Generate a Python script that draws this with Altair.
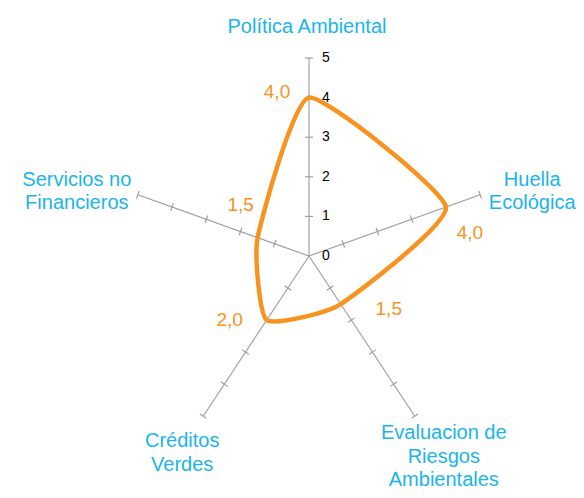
import math
import altair as alt
import pandas as pd

# ---- data ----
categories = ["Política Ambiental", "Huella Ecológica",
              "Evaluacion de Riesgos Ambientales", "Créditos Verdes",
              "Servicios no Financieros"]
category_lines = [["Política Ambiental"], ["Huella", "Ecológica"],
                  ["Evaluacion de", "Riesgos", "Ambientales"],
                  ["Créditos", "Verdes"], ["Servicios no", "Financieros"]]
values = [4.0, 4.0, 1.5, 2.0, 1.5]
value_labels = ["4,0", "4,0", "1,5", "2,0", "1,5"]
scale_ticks = [0, 1, 2, 3, 4, 5]
max_value = 5

# ---- styles / layout ----
W, H = 360, 396
PXX = W / (2 * max_value)   # px per unit in x
PXY = H / (2 * max_value)   # px per unit in y
ORANGE = "#F7931E"
CYAN = "#1BB4EC"
GRAY = "#9a9a9a"
FONT = "Liberation Sans"
# pixel offsets of category labels (first baseline) from axis ends,
# and of value labels from the data points
cat_offsets = [(-2, -25), (52, -9), (29, 23), (-21, 31), (-61, -9)]
val_offsets = [(-32, -6), (24, 26), (48, 5), (-37, 0), (-17, -33)]

n = len(categories)
angles = [2 * math.pi * i / n for i in range(n)]


def pos(r, a):
    return r * math.sin(a), r * math.cos(a)


# axis lines
axis_rows = []
for c, a in zip(categories, angles):
    x2, y2 = pos(max_value, a)
    axis_rows.append({"x": 0, "y": 0, "x2": x2, "y2": y2})
axes_df = pd.DataFrame(axis_rows)

# tick marks (perpendicular in pixel space, 8px long)
tick_rows = []
for a in angles:
    ux, uy = math.sin(a) * PXX, math.cos(a) * PXY
    L = math.hypot(ux, uy)
    ux, uy = ux / L, uy / L
    px, py = -uy, ux
    for t in scale_ticks[1:]:
        cx, cy = pos(t, a)
        tick_rows.append({
            "x": cx - 4 * px / PXX, "y": cy - 4 * py / PXY,
            "x2": cx + 4 * px / PXX, "y2": cy + 4 * py / PXY})
ticks_df = pd.DataFrame(tick_rows)

# scale labels on top axis
scale_df = pd.DataFrame({"x": [0] * len(scale_ticks), "y": scale_ticks,
                         "t": [str(v) for v in scale_ticks]})

# data polygon
poly_rows = []
for i, (v, a) in enumerate(zip(values, angles)):
    x, y = pos(v, a)
    poly_rows.append({"x": x, "y": y, "o": i})
poly_df = pd.DataFrame(poly_rows)

# value labels
vl_rows = []
for v, a, lab, (dx, dy) in zip(values, angles, value_labels, val_offsets):
    x, y = pos(v, a)
    vl_rows.append({"x": x + dx / PXX, "y": y - dy / PXY, "t": lab})
vl_df = pd.DataFrame(vl_rows)

# category labels
cl_rows = []
for lines, a, (dx, dy) in zip(category_lines, angles, cat_offsets):
    x, y = pos(max_value, a)
    cl_rows.append({"x": x + dx / PXX, "y": y - dy / PXY, "t": "\n".join(lines)})
cl_df = pd.DataFrame(cl_rows)

xs = alt.Scale(domain=[-max_value, max_value], nice=False, zero=False)
ys = alt.Scale(domain=[-max_value, max_value], nice=False, zero=False)
X = lambda f: alt.X(f, type="quantitative", scale=xs, axis=None)
Y = lambda f: alt.Y(f, type="quantitative", scale=ys, axis=None)

axes_layer = alt.Chart(axes_df).mark_rule(color=GRAY, strokeWidth=1.1).encode(
    x=X("x"), y=Y("y"), x2="x2", y2="y2")
ticks_layer = alt.Chart(ticks_df).mark_rule(color=GRAY, strokeWidth=1.1).encode(
    x=X("x"), y=Y("y"), x2="x2", y2="y2")
scale_layer = alt.Chart(scale_df).mark_text(
    align="left", baseline="middle", dx=13, fontSize=14, font=FONT, color="#000"
).encode(x=X("x"), y=Y("y"), text="t")
line_layer = alt.Chart(poly_df).mark_line(
    interpolate="cardinal-closed", tension=0.5, color=ORANGE, strokeWidth=4.5
).encode(x=X("x"), y=Y("y"), order="o:Q")
vl_layer = alt.Chart(vl_df).mark_text(
    align="center", baseline="middle", fontSize=19, font=FONT, color=ORANGE
).encode(x=X("x"), y=Y("y"), text="t")
cl_layer = alt.Chart(cl_df).mark_text(
    align="center", baseline="alphabetic", fontSize=20, font=FONT, color=CYAN,
    lineBreak="\n", lineHeight=23.5
).encode(x=X("x"), y=Y("y"), text="t")

chart = alt.layer(axes_layer, ticks_layer, line_layer, scale_layer, vl_layer, cl_layer).properties(
    width=W, height=H,
    background="white",
    autosize=alt.AutoSizeParams(type="none"),
    padding={"left": 121, "top": 50, "right": 87, "bottom": 36},
).configure_view(strokeWidth=0, stroke=None)

chart.save("out.html", embed_options={"renderer": "svg", "actions": False})
